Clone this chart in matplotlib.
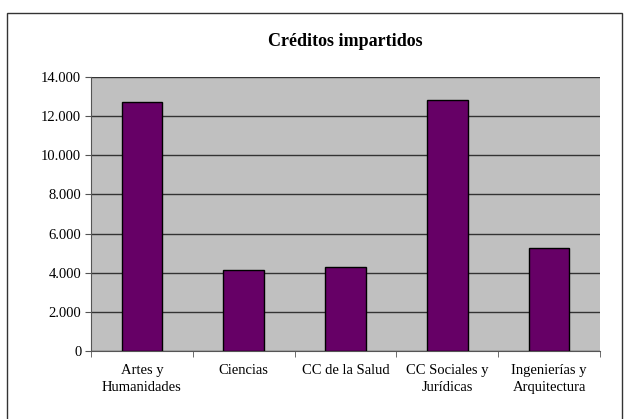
import numpy as np
import matplotlib.pyplot as plt
from matplotlib.patches import Rectangle

categories = ['Artes y\nHumanidades', 'Ciencias', 'CC de la Salud',
              'CC Sociales y\nJurídicas', 'Ingenierías y\nArquitectura']
creditos = [12700, 4150, 4270, 12800, 5280]
yticks = [0, 2000, 4000, 6000, 8000, 10000, 12000, 14000]

plt.rcParams['font.family'] = ['Liberation Serif', 'DejaVu Serif']

fig = plt.figure(figsize=(6.3, 4.19), dpi=100)
ax = fig.add_axes([91/630, 68/419, 509/630, 274/419])

x = np.arange(len(categories))
ax.bar(x, creditos, width=0.4, color='#660066', edgecolor='black', linewidth=1.0, zorder=3)

ax.set_facecolor('#c0c0c0')
ax.set_xlim(-0.5, len(categories) - 0.5)
ax.set_ylim(0, 14000)
ax.set_yticks(yticks)
ax.set_yticklabels(['{:,}'.format(v).replace(',', '.') for v in yticks], fontsize=10.5)
ax.yaxis.grid(True, color='#333333', linewidth=1.0, zorder=1)

ax.set_xticks(x)
ax.set_xticklabels(categories, fontsize=10.5, linespacing=1.4)
ax.tick_params(axis='x', which='major', length=0, pad=9)
ax.set_xticks(np.arange(-0.5, len(categories)), minor=True)
ax.tick_params(axis='x', which='minor', length=4, color='#555555')
ax.tick_params(axis='y', length=4, color='#555555', pad=3)

for side in ['top', 'right']:
    ax.spines[side].set_visible(False)
for side in ['left', 'bottom']:
    ax.spines[side].set_color('#555555')

ax.set_title('Créditos impartidos', fontsize=13, fontweight='bold', pad=22)

# marco del gráfico
fig.patches.append(Rectangle((7/630, -0.01), 615/630, (419-13)/419 + 0.01,
                             transform=fig.transFigure, fill=False,
                             edgecolor='#333333', linewidth=1.0))

fig.savefig('out.png', dpi=100)
